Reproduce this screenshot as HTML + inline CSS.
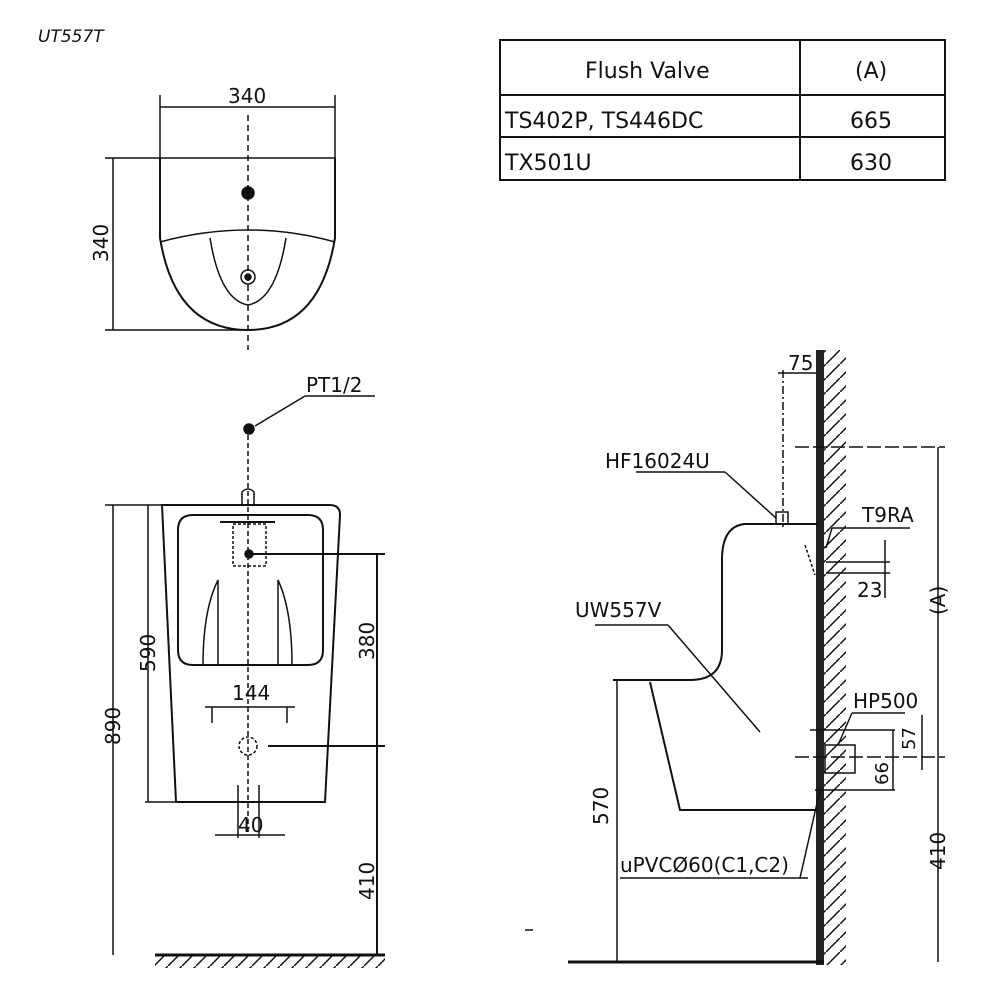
<!DOCTYPE html>
<html><head><meta charset="utf-8"><style>body{margin:0;background:#fff}svg{display:block}text{font-family:"DejaVu Sans","Liberation Sans",sans-serif;fill:#111}</style></head>
<body>
<svg width="1000" height="1000" viewBox="0 0 1000 1000" xmlns="http://www.w3.org/2000/svg" stroke="#111" fill="none" stroke-width="1.5">
<defs><pattern id="h" width="14" height="14" patternUnits="userSpaceOnUse"><line x1="0" y1="14" x2="14" y2="0" stroke="#111" stroke-width="1.5"/></pattern></defs>
<text x="38" y="42" font-size="17" font-style="italic" stroke="none">UT557T</text>
<!-- table -->
<g stroke-width="2"><rect x="500" y="40" width="445" height="140"/><line x1="500" y1="95" x2="945" y2="95"/><line x1="500" y1="137" x2="945" y2="137"/><line x1="800" y1="40" x2="800" y2="180"/></g>
<g stroke="none" font-size="22"><text x="585" y="78">Flush Valve</text><text x="855" y="78">(A)</text><text x="505" y="128">TS402P, TS446DC</text><text x="850" y="128">665</text><text x="505" y="170">TX501U</text><text x="850" y="170">630</text></g>
<!-- top view -->
<line x1="160" y1="95" x2="160" y2="160"/><line x1="335" y1="95" x2="335" y2="160"/><line x1="160" y1="107" x2="335" y2="107"/>
<text x="228" y="103" font-size="20" stroke="none">340</text>
<line x1="105" y1="158" x2="335" y2="158"/><line x1="105" y1="330" x2="250" y2="330"/><line x1="113" y1="158" x2="113" y2="330"/>
<text transform="translate(108,262) rotate(-90)" font-size="20" stroke="none">340</text>
<path d="M160 158 V238 Q175 330 248 330 Q320 330 335 238 V158" stroke-width="2"/>
<path d="M160 242 Q248 218 335 242"/><path d="M210 238 Q220 300 248 305 Q276 300 286 238"/>
<line x1="248" y1="115" x2="248" y2="350" stroke-dasharray="6 4"/>
<circle cx="248" cy="193" r="6" fill="#111"/><circle cx="248" cy="277" r="7"/><circle cx="248" cy="277" r="3" fill="#111"/>
<!-- front -->
<text x="306" y="392" font-size="20" stroke="none">PT1/2</text>
<line x1="305" y1="396" x2="375" y2="396"/><line x1="305" y1="396" x2="255" y2="426"/>
<circle cx="249" cy="429" r="5" fill="#111"/>
<line x1="248" y1="435" x2="248" y2="835" stroke-dasharray="5 3"/>
<path d="M242 505 V492 Q248 486 254 492 V505"/>
<path d="M162 505 H330 Q340 505 340 515 L325 802 H176 L162 505 Z" stroke-width="2"/>
<path d="M178 530 Q178 515 193 515 H308 Q323 515 323 530 V650 Q323 665 308 665 H193 Q178 665 178 650 Z" stroke-width="2"/>
<rect x="233" y="524" width="33" height="42" stroke-dasharray="3 2"/>
<line x1="220" y1="522" x2="275" y2="522" stroke-width="2"/>
<circle cx="249" cy="554" r="4" fill="#111"/><line x1="249" y1="554" x2="385" y2="554" stroke-width="2"/>
<path d="M203 665 Q203 610 218 580 V665"/><path d="M292 665 Q292 610 278 580 V665"/>
<text x="232" y="700" font-size="20" stroke="none">144</text>
<line x1="205" y1="707" x2="295" y2="707"/><line x1="212" y1="707" x2="212" y2="723"/><line x1="287" y1="707" x2="287" y2="723"/>
<circle cx="248" cy="746" r="9" stroke-dasharray="3 2"/><line x1="268" y1="746" x2="385" y2="746" stroke-width="2"/>
<line x1="238" y1="785" x2="238" y2="838"/><line x1="259" y1="785" x2="259" y2="838"/><line x1="215" y1="835" x2="285" y2="835"/>
<text x="238" y="832" font-size="20" stroke="none">40</text>
<line x1="105" y1="505" x2="162" y2="505"/><line x1="113" y1="505" x2="113" y2="955"/>
<text transform="translate(120,745) rotate(-90)" font-size="20" stroke="none">890</text>
<line x1="148" y1="505" x2="148" y2="802"/><line x1="145" y1="802" x2="176" y2="802"/>
<text transform="translate(155,672) rotate(-90)" font-size="20" stroke="none">590</text>
<line x1="377" y1="554" x2="377" y2="955" stroke-width="2"/>
<text transform="translate(374,660) rotate(-90)" font-size="20" stroke="none">380</text>
<text transform="translate(374,900) rotate(-90)" font-size="20" stroke="none">410</text>
<line x1="155" y1="955" x2="385" y2="955" stroke-width="3"/>
<rect x="155" y="956" width="230" height="12" fill="url(#h)" stroke="none"/>
<!-- side -->
<rect x="816" y="350" width="8" height="615" fill="#222" stroke="none"/>
<rect x="824" y="350" width="22" height="615" fill="url(#h)" stroke="none"/>
<line x1="568" y1="962" x2="824" y2="962" stroke-width="3"/>
<line x1="783" y1="370" x2="783" y2="530" stroke-dasharray="8 3 2 3"/><line x1="778" y1="373" x2="816" y2="373"/>
<text x="788" y="370" font-size="20" stroke="none">75</text>
<line x1="795" y1="447" x2="945" y2="447" stroke-dasharray="14 4"/>
<line x1="938" y1="447" x2="938" y2="962"/>
<text transform="translate(945,615) rotate(-90)" font-size="20" stroke="none">(A)</text>
<text transform="translate(945,870) rotate(-90)" font-size="20" stroke="none">410</text>
<text x="605" y="468" font-size="20" stroke="none">HF16024U</text>
<line x1="636" y1="472" x2="725" y2="472"/><line x1="725" y1="472" x2="776" y2="518"/>
<rect x="776" y="512" width="12" height="12"/>
<path d="M745 524 H818 M745 524 Q722 526 722 560 V650 Q722 680 690 680 H613" stroke-width="2"/>
<line x1="617" y1="680" x2="617" y2="962"/>
<text transform="translate(608,825) rotate(-90)" font-size="20" stroke="none">570</text>
<path d="M650 682 L680 810 H818" stroke-width="2"/>
<text x="862" y="522" font-size="20" stroke="none">T9RA</text>
<line x1="832" y1="528" x2="910" y2="528"/><line x1="832" y1="528" x2="826" y2="548"/>
<line x1="805" y1="545" x2="815" y2="575" stroke-dasharray="3 2"/>
<line x1="826" y1="562" x2="890" y2="562"/><line x1="826" y1="573" x2="890" y2="573"/><line x1="885" y1="540" x2="885" y2="598"/>
<text x="857" y="597" font-size="20" stroke="none">23</text>
<text x="575" y="617" font-size="20" stroke="none">UW557V</text>
<line x1="595" y1="625" x2="668" y2="625"/><line x1="668" y1="625" x2="760" y2="732"/>
<text x="853" y="708" font-size="20" stroke="none">HP500</text>
<line x1="852" y1="713" x2="905" y2="713"/><line x1="852" y1="713" x2="838" y2="745"/>
<line x1="810" y1="730" x2="895" y2="730"/><line x1="795" y1="757" x2="945" y2="757" stroke-dasharray="14 4"/>
<rect x="825" y="745" width="30" height="28"/><line x1="815" y1="790" x2="895" y2="790"/>
<line x1="893" y1="730" x2="893" y2="790"/><line x1="922" y1="715" x2="922" y2="770"/>
<text transform="translate(915,750) rotate(-90)" font-size="18" stroke="none">57</text>
<text transform="translate(888,785) rotate(-90)" font-size="18" stroke="none">66</text>
<text x="620" y="872" font-size="20" stroke="none">uPVCØ60(C1,C2)</text>
<line x1="620" y1="878" x2="808" y2="878"/><line x1="800" y1="878" x2="820" y2="790"/>
<line x1="525" y1="930" x2="533" y2="930"/>
</svg>
</body></html>
